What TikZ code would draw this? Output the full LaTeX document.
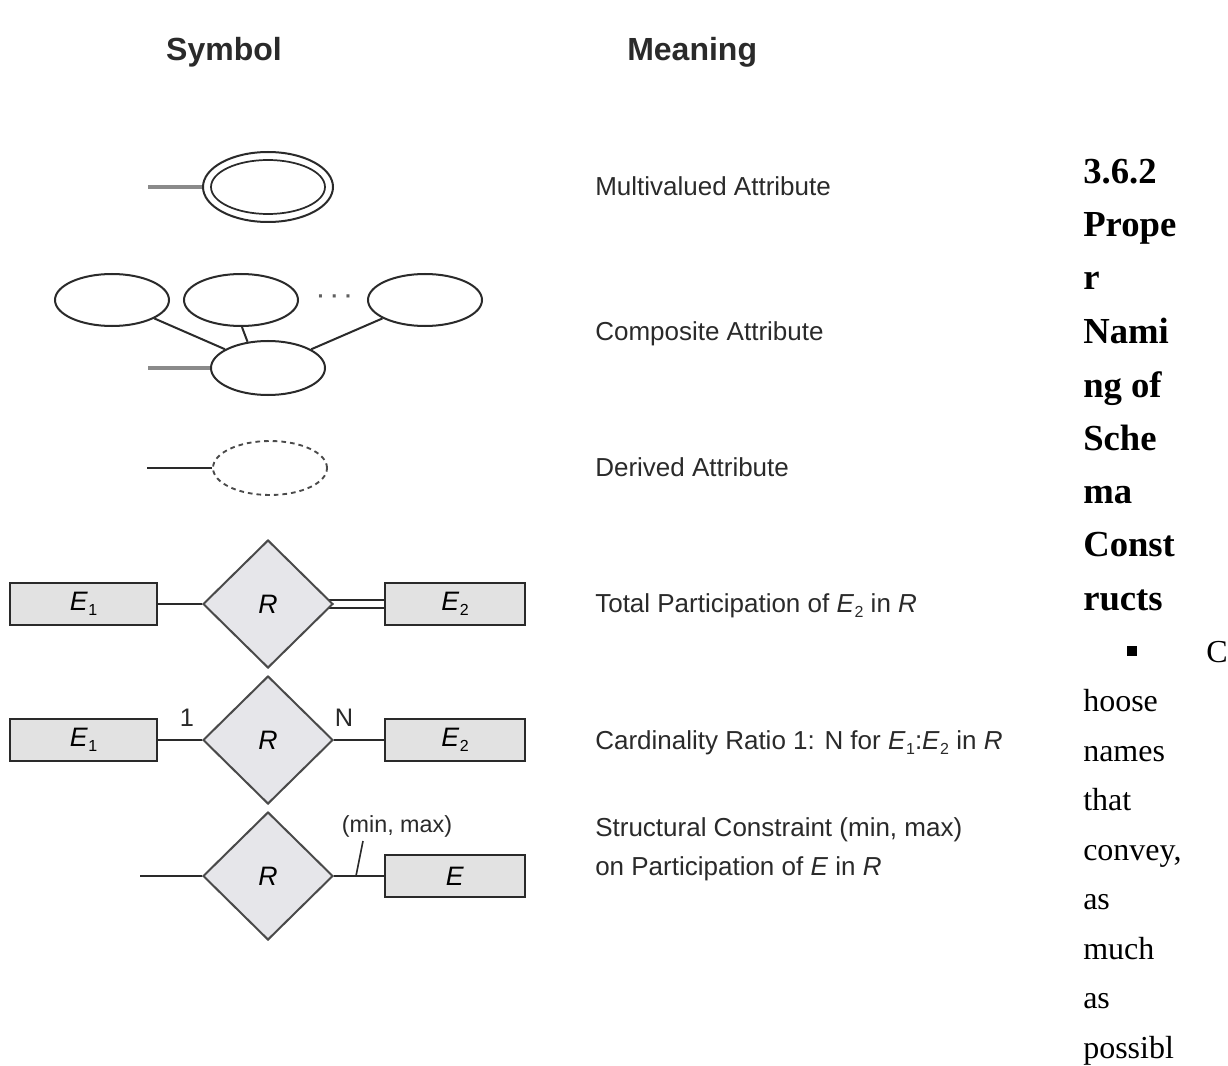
\documentclass[tikz,border=0pt]{standalone}
\usepackage{fontspec}
\setmainfont{Liberation Sans}
\newfontfamily\serifrm{Liberation Serif}
\usetikzlibrary{shapes.geometric,backgrounds}
\definecolor{ink}{HTML}{2A2A2A}
\definecolor{boxfill}{HTML}{E2E2E2}
\definecolor{relfill}{HTML}{E6E6EA}
\definecolor{stubgray}{HTML}{8A8A8A}
\newcommand\Esub[1]{\textit{E}\kern0.3pt\raisebox{-0.4ex}{\fontsize{12}{12}\selectfont #1}}
\begin{document}
\begin{tikzpicture}[x=0.75pt,y=-0.75pt,
  hdr/.style={font=\fontsize{24}{28}\selectfont\bfseries, text=ink, inner sep=0pt},
  mean/.style={font=\fontsize{19.5}{29}\selectfont, text=ink, inner sep=0pt, anchor=base west, align=left},
  ell/.style={ellipse, draw=ink, line width=1.5pt, inner sep=0pt, minimum width=85.5pt, minimum height=39pt},
  stub/.style={draw=stubgray, line width=2.4pt},
  link/.style={draw=ink, line width=1.5pt},
  ent/.style={rectangle, draw=ink, fill=boxfill, line width=1.6pt, minimum width=105pt, minimum height=31.5pt, inner sep=0pt, font=\fontsize{20}{24}\selectfont},
  rel/.style={diamond, draw=ink!85, fill=relfill, line width=1.5pt, minimum width=97.5pt, minimum height=96pt, inner sep=0pt, font=\fontsize{20}{24}\selectfont\itshape},
  lbl/.style={font=\fontsize{19}{22}\selectfont, text=ink, inner sep=0pt},
  headr/.style={font=\serifrm\bfseries\fontsize{27.5}{30}\selectfont, inner sep=0pt, anchor=base west},
  bodyr/.style={font=\serifrm\fontsize{24}{28}\selectfont, inner sep=0pt, anchor=base west}
]
\useasboundingbox (0,0) rectangle (1228,1066);
\begin{scope}[on background layer]
\fill[white] (0,0) rectangle (1228,1066);
\end{scope}

% headers
\node[hdr, anchor=base] (hsym) at (224,61) {Symbol};
\node[hdr, anchor=base west] (hmean) at (627,61) {Meaning};

% multivalued attribute
\node[ell, minimum width=97.5pt, minimum height=52.5pt] (mv) at (268,187) {};
\node[ell, line width=1.3pt, minimum width=85.5pt, minimum height=40.5pt] (mvin) at (268,187) {};
\coordinate (mvs) at (148,187);
\draw[stub] (mvs) -- (mv.west);
\node[mean] (tmv) at (595,196) {Multivalued Attribute};

% composite attribute
\node[ell] (c1) at (112,300) {};
\node[ell] (c2) at (241,300) {};
\node[ell] (c3) at (425,300) {};
\node[ell, minimum height=40.5pt] (cb) at (268,368) {};
\node[font=\fontsize{16}{16}\selectfont\bfseries, text=ink!75, inner sep=0pt] (cdots) at (335,299) {·\hspace{5pt}·\hspace{5pt}·};
\draw[link] (c1) -- (cb);
\draw[link] (c2.-88) -- (cb.128);
\draw[link] (c3) -- (cb);
\coordinate (cbs) at (148,368);
\draw[stub] (cbs) -- (cb.west);
\node[mean] (tcomp) at (595,340) {Composite Attribute};

% derived attribute
\node[ell, dashed, dash pattern=on 3.5pt off 3pt, draw=ink!85, line width=1.4pt, minimum height=40.5pt] (dv) at (270,468) {};
\coordinate (dvs) at (147,468);
\draw[link] (dvs) -- (dv.west);
\node[mean] (tder) at (595,476) {Derived Attribute};

% total participation
\node[ent, minimum width=110.25pt] (t1) at (83.5,604) {\Esub{1}};
\node[rel] (tr) at (268,604) {R};
\node[ent] (t2) at (455,604) {\Esub{2}};
\begin{scope}[on background layer]
\draw[link] (t1) -- (tr);
\draw[draw=ink, line width=1.5pt, double=white, double distance=3.8pt] (tr.center) -- (t2.west);
\end{scope}
\node[mean] (ttot) at (595,612) {Total Participation of \Esub{2} in \textit{R}};

% cardinality ratio
\node[ent, minimum width=110.25pt] (k1) at (83.5,740) {\Esub{1}};
\node[rel] (kr) at (268,740) {R};
\node[ent] (k2) at (455,740) {\Esub{2}};
\draw[link] (k1) -- (kr);
\draw[link] (kr) -- (k2);
\node[lbl] (one) at (187,718) {1};
\node[lbl] (nn) at (344,718) {N};
\node[mean] (tcard) at (595,749) {Cardinality Ratio 1: N for \Esub{1}:\Esub{2} in \textit{R}};

% structural constraint
\coordinate (ss) at (140,876);
\node[rel] (sr) at (268,876) {R};
\node[ent] (se) at (455,876) {\textit{E}};
\draw[link] (ss) -- (sr);
\draw[link] (sr) -- (se);
\node[lbl, font=\fontsize{17.5}{20}\selectfont] (mm) at (397,826) {(min, max)};
\coordinate (tktop) at (363,841);
\coordinate (tkbot) at (356,876);
\draw[link, line width=1.2pt] (tktop) -- (tkbot);
\node[mean] (tstr) at (595,875) {Structural Constraint (min, max)\\on Participation of \textit{E} in \textit{R}};

% right column text
\node[headr] (r1) at (1083,184) {3.6.2};
\node[headr] (r2) at (1083,237) {Prope};
\node[headr] (r3) at (1083,290) {r};
\node[headr] (r4) at (1083,344) {Nami};
\node[headr] (r5) at (1083,397) {ng of};
\node[headr] (r6) at (1083,450) {Sche};
\node[headr] (r7) at (1083,503) {ma};
\node[headr] (r8) at (1083,556) {Const};
\node[headr] (r9) at (1083,610) {ructs};
\node[fill=black, minimum size=7pt, inner sep=0pt] (bul) at (1132,651) {};
\node[bodyr] (b0) at (1206,662) {C};
\node[bodyr] (b1) at (1083,711) {hoose};
\node[bodyr] (b2) at (1083,761) {names};
\node[bodyr] (b3) at (1083,810) {that};
\node[bodyr] (b4) at (1083,860) {convey,};
\node[bodyr] (b5) at (1083,909) {as};
\node[bodyr] (b6) at (1083,959) {much};
\node[bodyr] (b7) at (1083,1008) {as};
\node[bodyr] (b8) at (1083,1058) {possibl};
\end{tikzpicture}
\end{document}
